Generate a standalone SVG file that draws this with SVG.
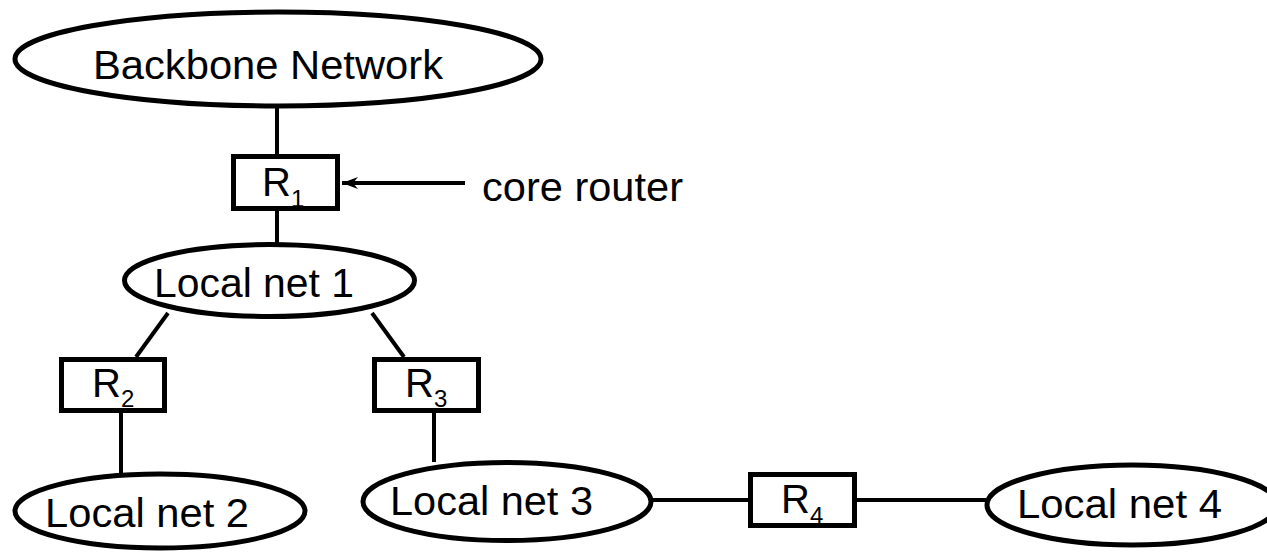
<svg xmlns="http://www.w3.org/2000/svg" width="1267" height="553" viewBox="0 0 1267 553">
  <style>
    .net { fill: #fff; stroke: #000; stroke-width: 5; }
    .box { fill: #fff; stroke: #000; stroke-width: 5; }
    .wire { stroke: #000; stroke-width: 4; fill: none; }
    .lbl { font-family: "Liberation Sans", Arial, sans-serif; font-size: 40px; fill: #000; }
    .sub { font-size: 24px; }
  </style>
  <defs>
    <!-- barbed arrowhead, tip at the end of the line -->
    <marker id="arrowHead" viewBox="0 0 16 12" refX="16" refY="6" markerWidth="16" markerHeight="12" markerUnits="userSpaceOnUse" orient="auto">
      <path d="M16,6 L0,0 L5,6 L0,12 Z" fill="#000"/>
    </marker>
  </defs>

  <!-- connectors -->
  <g id="connectors">
    <line class="wire" x1="277" y1="108" x2="277" y2="154"/>
    <line class="wire" x1="277" y1="211" x2="277" y2="243"/>
    <line class="wire" x1="168" y1="313" x2="136" y2="357"/>
    <line class="wire" x1="372" y1="313" x2="404" y2="357"/>
    <line class="wire" x1="121" y1="413" x2="121" y2="473"/>
    <line class="wire" x1="434" y1="413" x2="434" y2="462"/>
    <line class="wire" x1="652" y1="500" x2="748" y2="500"/>
    <line class="wire" x1="857" y1="500" x2="986" y2="500"/>
    <line class="wire" x1="465" y1="183" x2="342" y2="183" marker-end="url(#arrowHead)"/>
  </g>

  <g id="backbone">
    <ellipse class="net" cx="278" cy="59" rx="263" ry="47"/>
    <text class="lbl" x="93" y="79" textLength="350" lengthAdjust="spacingAndGlyphs">Backbone Network</text>
  </g>

  <g id="r1">
    <rect class="box" x="233.5" y="156.5" width="104" height="52"/>
    <text class="lbl" x="262" y="196">R<tspan class="sub" dy="11">1</tspan></text>
  </g>

  <g id="core-label">
    <text class="lbl" x="482" y="201" textLength="201" lengthAdjust="spacingAndGlyphs">core router</text>
  </g>

  <g id="net1">
    <ellipse class="net" cx="269.5" cy="280.5" rx="145" ry="36"/>
    <text class="lbl" x="154" y="297" textLength="200" lengthAdjust="spacingAndGlyphs">Local net 1</text>
  </g>

  <g id="r2">
    <rect class="box" x="61.5" y="359.5" width="103" height="51"/>
    <text class="lbl" x="92" y="397">R<tspan class="sub" dy="10">2</tspan></text>
  </g>

  <g id="r3">
    <rect class="box" x="374.5" y="359.5" width="104" height="51"/>
    <text class="lbl" x="405" y="397">R<tspan class="sub" dy="10">3</tspan></text>
  </g>

  <g id="net2">
    <ellipse class="net" cx="160" cy="511" rx="145" ry="37"/>
    <text class="lbl" x="45" y="527" textLength="204" lengthAdjust="spacingAndGlyphs">Local net 2</text>
  </g>

  <g id="net3">
    <ellipse class="net" cx="507" cy="501.5" rx="144" ry="39"/>
    <text class="lbl" x="390" y="515" textLength="203" lengthAdjust="spacingAndGlyphs">Local net 3</text>
  </g>

  <g id="r4">
    <rect class="box" x="750.5" y="474.5" width="104" height="51"/>
    <text class="lbl" x="781" y="513">R<tspan class="sub" dy="11">4</tspan></text>
  </g>

  <g id="net4">
    <ellipse class="net" cx="1132" cy="505" rx="145" ry="40"/>
    <text class="lbl" x="1017" y="518" textLength="205" lengthAdjust="spacingAndGlyphs">Local net 4</text>
  </g>
</svg>
